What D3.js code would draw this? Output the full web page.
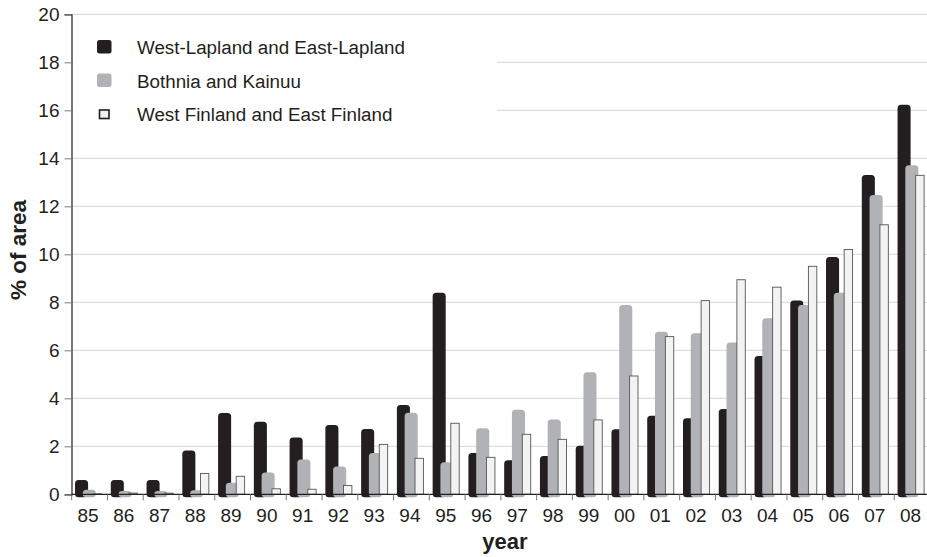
<!DOCTYPE html>
<html>
<head>
<meta charset="utf-8">
<script src="https://cdn.jsdelivr.net/npm/d3@7"></script>
<style>
  body { margin: 0; background: #fff; }
  svg { display: block; font-family: "Liberation Sans", Arial, sans-serif; }
</style>
</head>
<body>
<div id="chart"></div>
<script>
// data
var years = ["85","86","87","88","89","90","91","92","93","94","95","96","97","98","99","00","01","02","03","04","05","06","07","08"];
var westLapland = [0.55,0.55,0.55,1.78,3.35,2.98,2.33,2.85,2.68,3.68,8.36,1.68,1.38,1.55,1.98,2.67,3.23,3.13,3.51,5.72,8.03,9.85,13.26,16.19];
var bothnia = [0.15,0.1,0.1,0.13,0.44,0.87,1.41,1.12,1.68,3.36,1.29,2.71,3.48,3.08,5.04,7.85,6.73,6.67,6.28,7.29,7.85,8.36,12.43,13.67];
var westFinland = [0.02,0.05,0.05,0.87,0.75,0.23,0.21,0.37,2.08,1.5,2.96,1.54,2.5,2.29,3.1,4.93,6.57,8.07,8.94,8.63,9.5,10.2,11.23,13.29];
var seriesNames = ["West-Lapland and East-Lapland","Bothnia and Kainuu","West Finland and East Finland"];
var yTicks = [0,2,4,6,8,10,12,14,16,18,20];

var w = 927;
var h = 557;

var xScale = d3.scaleBand()
    .domain(years)
    .range([71.7, 930])
    .paddingInner(0)
    .paddingOuter(0);
var yScale = d3.scaleLinear()
    .domain([0, 20])
    .range([494.3, 14.3]);

var svg = d3.select("#chart")
    .append("svg")
    .attr("width", w)
    .attr("height", h);

// gridlines
svg.append("g")
    .selectAll("line")
    .data(yTicks.slice(1))
    .enter()
    .append("line")
    .attr("x1", 71.5)
    .attr("x2", w)
    .attr("y1", function(d) { return yScale(d); })
    .attr("y2", function(d) { return yScale(d); })
    .attr("stroke", "#d6d6d6")
    .attr("stroke-width", 1);

// legend background hides gridlines behind it
svg.append("rect")
    .attr("x", 73)
    .attr("y", 22)
    .attr("width", 424)
    .attr("height", 128)
    .attr("fill", "#fff");

var bw = xScale.bandwidth();
var series = [
  { values: westLapland, off: 0.093, width: 0.365, fill: "#231f20" },
  { values: bothnia, off: 0.31, width: 0.365, fill: "#b1b2b5" }
];

// rounded bars that sink a little under the baseline
series.forEach(function(s, k) {
  svg.append("g")
    .selectAll("rect")
    .data(years)
    .enter()
    .append("rect")
    .attr("x", function(d) { return xScale(d) + bw * s.off; })
    .attr("y", function(d, i) { return yScale(s.values[i]) - 1; })
    .attr("width", bw * s.width)
    .attr("height", function(d, i) { return yScale(0) - yScale(s.values[i]) + 4; })
    .attr("rx", 3.5)
    .attr("fill", s.fill);
});

// white outlined bars
svg.append("g")
    .selectAll("rect")
    .data(years)
    .enter()
    .append("rect")
    .attr("x", function(d) { return xScale(d) + bw * 0.6; })
    .attr("y", function(d, i) { return yScale(westFinland[i]); })
    .attr("width", bw * 0.235)
    .attr("height", function(d, i) { return yScale(0) - yScale(westFinland[i]); })
    .attr("fill", "#f2f3f2")
    .attr("stroke", "#555")
    .attr("stroke-width", 0.9);

// x axis line and ticks at band edges
svg.append("line")
    .attr("x1", 71.5).attr("x2", w)
    .attr("y1", yScale(0)).attr("y2", yScale(0))
    .attr("stroke", "#231f20")
    .attr("stroke-width", 1.2);

svg.append("g")
    .selectAll("line")
    .data(years)
    .enter()
    .append("line")
    .attr("x1", function(d) { return xScale(d); })
    .attr("x2", function(d) { return xScale(d); })
    .attr("y1", yScale(0))
    .attr("y2", yScale(0) + 6)
    .attr("stroke", "#777")
    .attr("stroke-width", 1);

svg.append("g")
    .selectAll("text")
    .data(years)
    .enter()
    .append("text")
    .attr("x", function(d) { return xScale(d) + bw / 2 - 1.5; })
    .attr("y", 522)
    .attr("text-anchor", "middle")
    .style("font-size", "19px")
    .style("fill", "#231f20")
    .text(function(d) { return d; });

// y axis
var yAxis = d3.axisLeft(yScale)
    .tickValues(yTicks)
    .tickSize(7)
    .tickPadding(5)
    .tickFormat(d3.format("d"));

var gy = svg.append("g")
    .attr("transform", "translate(71.5,0)")
    .call(yAxis);
gy.select(".domain").attr("stroke", "#231f20").attr("stroke-width", 1.2);
gy.selectAll(".tick line").attr("stroke", "#777");
gy.selectAll(".tick text")
    .style("font-size", "19px")
    .style("font-family", "Liberation Sans, Arial, sans-serif")
    .attr("fill", "#231f20");

// axis titles
svg.append("text")
    .attr("x", 505)
    .attr("y", 549)
    .attr("text-anchor", "middle")
    .style("font-size", "22px")
    .style("font-weight", "bold")
    .style("fill", "#231f20")
    .text("year");

svg.append("text")
    .attr("transform", "translate(26,250) rotate(-90)")
    .attr("text-anchor", "middle")
    .style("font-size", "22.5px")
    .style("font-weight", "bold")
    .style("fill", "#231f20")
    .text("% of area");

// legend
var legendY = [47, 80.5, 114];
var lg = svg.append("g");
lg.append("rect").attr("x", 97).attr("y", legendY[0] - 7).attr("width", 14.5).attr("height", 13.5).attr("rx", 2.5).attr("fill", "#231f20");
lg.append("rect").attr("x", 97).attr("y", legendY[1] - 7).attr("width", 14.5).attr("height", 13.5).attr("rx", 2.5).attr("fill", "#b1b2b5");
lg.append("rect").attr("x", 99.5).attr("y", legendY[2] - 4).attr("width", 9.5).attr("height", 8.5).attr("fill", "#f2f3f2").attr("stroke", "#231f20").attr("stroke-width", 1.6);

lg.selectAll("text")
    .data(seriesNames)
    .enter()
    .append("text")
    .attr("x", 137)
    .attr("y", function(d, i) { return legendY[i] + 7; })
    .style("font-size", "18.8px")
    .style("fill", "#231f20")
    .text(function(d) { return d; });
</script>
</body>
</html>
